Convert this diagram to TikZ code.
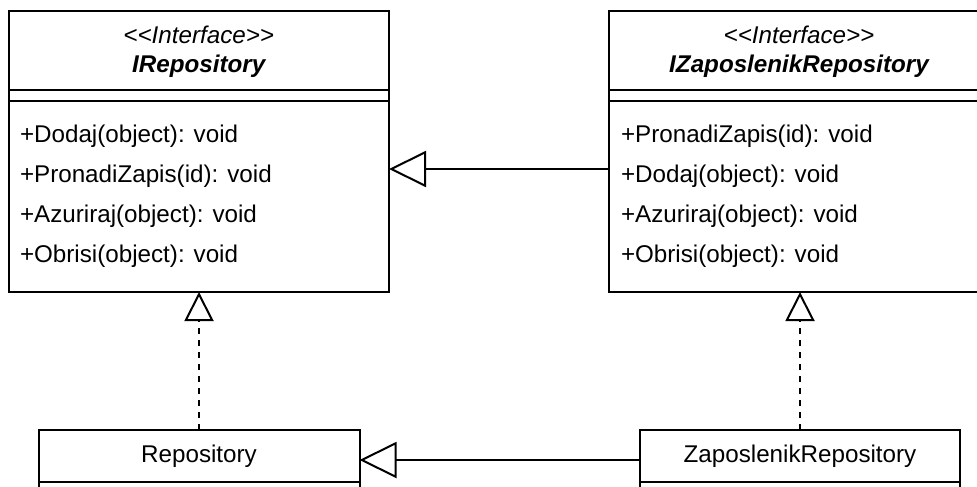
\documentclass[tikz,border=0pt]{standalone}
\usepackage{fontspec}
\setmainfont{Liberation Sans}
\usetikzlibrary{arrows.meta}
\begin{document}
\begin{tikzpicture}[x=0.5pt,y=-0.5pt,
  box/.style={draw,line width=1pt,rectangle,inner sep=0pt,outer sep=0pt},
  txt/.style={inner sep=0pt,outer sep=0pt,font=\fontsize{12.1}{14}\selectfont,text height=0.72em,text depth=0.21em},
  meth/.style={txt,anchor=west},
  stereo/.style={txt,font=\fontsize{12.1}{14}\selectfont\itshape},
  iname/.style={txt,font=\fontsize{12.1}{14}\selectfont\bfseries\itshape},
  cname/.style={box,txt,text depth=0.05em},
  sep/.style={line width=1pt},
  gen/.style={line width=1pt,-{Triangle[open,length=18.5pt,width=18pt]}},
  realiz/.style={line width=1pt,dash pattern=on 3pt off 3pt,-{Triangle[open,length=14.5pt,width=14.5pt]}}]
\useasboundingbox (0,0) rectangle (977,486);
\clip (0,0) rectangle (977,486);
% IRepository
\node[box,minimum width=190.25pt,minimum height=140.5pt] (irepo) at (198.75,151.5) {};
\node[stereo] (irs) at (198.75,38) {<{}<Interface>{}>};
\node[iname] (irn) at (198.75,67) {IRepository};
\draw[sep] (irepo.west |- 0,90) -- (irepo.east |- 0,90);
\draw[sep] (irepo.west |- 0,101) -- (irepo.east |- 0,101);
\node[meth] (ir1) at (20,137) {+Dodaj(object): void};
\node[meth] (ir2) at (20,177) {+PronadiZapis(id): void};
\node[meth] (ir3) at (20,217) {+Azuriraj(object): void};
\node[meth] (ir4) at (20,257) {+Obrisi(object): void};
% IZaposlenikRepository
\node[box,minimum width=190pt,minimum height=140.5pt] (izap) at (799,151.5) {};
\node[stereo] (izs) at (799,38) {<{}<Interface>{}>};
\node[iname] (izn) at (799,67) {IZaposlenikRepository};
\draw[sep] (izap.west |- 0,90) -- (izap.east |- 0,90);
\draw[sep] (izap.west |- 0,101) -- (izap.east |- 0,101);
\node[meth] (iz1) at (621,137) {+PronadiZapis(id): void};
\node[meth] (iz2) at (621,177) {+Dodaj(object): void};
\node[meth] (iz3) at (621,217) {+Azuriraj(object): void};
\node[meth] (iz4) at (621,257) {+Obrisi(object): void};
% Repository
\node[cname,minimum width=160.5pt,minimum height=26pt] (repo) at (199,456) {Repository};
\node[box,minimum width=160.5pt,minimum height=30pt,anchor=north] (repob) at (repo.south) {};
% ZaposlenikRepository
\node[cname,minimum width=160pt,minimum height=26pt] (zap) at (800,456) {ZaposlenikRepository};
\node[box,minimum width=160pt,minimum height=30pt,anchor=north] (zapb) at (zap.south) {};
% connectors
\draw[gen] ([yshift=-8.75pt]izap.west) -- ([yshift=-8.75pt]irepo.east);
\draw[gen] ([yshift=-2pt]zap.west) -- ([yshift=-2pt]repo.east);
\draw[realiz] (repo.north) -- (repo.north |- irepo.south);
\draw[realiz] (zap.north) -- (zap.north |- izap.south);
\end{tikzpicture}
\end{document}
